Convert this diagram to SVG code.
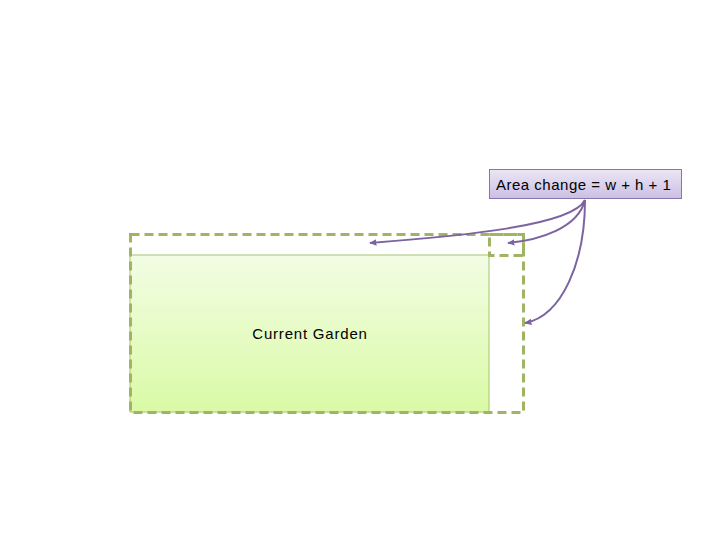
<svg xmlns="http://www.w3.org/2000/svg" width="720" height="540" viewBox="0 0 720 540">
<defs>
<linearGradient id="gg" x1="0" y1="0" x2="0" y2="1">
<stop offset="0" stop-color="#f2fde4"/>
<stop offset="1" stop-color="#dafaa6"/>
</linearGradient>
<linearGradient id="lg" x1="0" y1="0" x2="0" y2="1">
<stop offset="0" stop-color="#ece6f6"/>
<stop offset="1" stop-color="#cbbfe3"/>
</linearGradient>
<marker id="ah" viewBox="0 0 10 10" refX="8" refY="5" markerWidth="4" markerHeight="4" orient="auto">
<path d="M0,1 L9,5 L0,9 z" fill="#7b649f"/>
</marker>
<style>
.dash{fill:none;stroke:#a0b464;stroke-width:3;stroke-dasharray:9,5}
.lbl{font-family:"Liberation Sans",Arial,sans-serif;font-size:15px;fill:#000}
.conn{fill:none;stroke:#7b649f;stroke-width:2;marker-end:url(#ah)}
</style>
</defs>
<rect width="720" height="540" fill="#fff"/>
<g id="garden">
<rect x="130" y="255" width="359" height="157" fill="url(#gg)" stroke="#a6c46c" stroke-width="1"/>
<text class="lbl" x="310" y="339" text-anchor="middle" letter-spacing="0.8">Current Garden</text>
</g>
<g id="new-area">
<rect class="dash" x="130.5" y="234.5" width="393" height="178"/>
<rect class="dash" x="489.5" y="234.5" width="34" height="21"/>
</g>
<g id="label">
<rect x="489.5" y="169.5" width="192" height="29" fill="url(#lg)" stroke="#8a74b0" stroke-width="1"/>
<text class="lbl" x="496" y="190" letter-spacing="0.5">Area change = w + h + 1</text>
</g>
<g id="connectors">
<path class="conn" d="M585,200 C572,226 460,236 370,243"/>
<path class="conn" d="M585,200 C578,228 540,240 508,243"/>
<path class="conn" d="M585,200 C585,262 562,316 525,323"/>
</g>
</svg>
